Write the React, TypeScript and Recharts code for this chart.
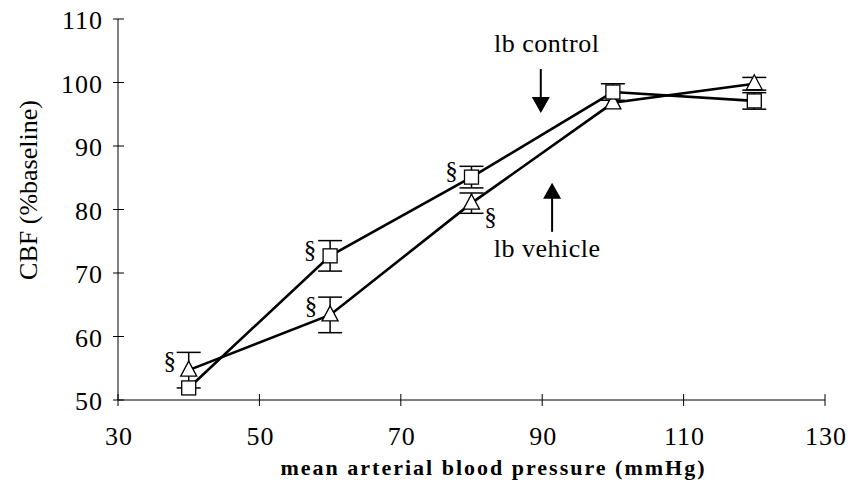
import { LineChart, Line, XAxis, YAxis, ErrorBar, ReferenceDot, Label } from 'recharts';

const pressure = [40, 60, 80, 100, 120];
const controlCBF = [51.9, 72.7, 85.1, 98.5, 97.1];
const controlErr = [null, 2.4, 1.7, 1.3, 1.3];
const vehicleCBF = [54.7, 63.4, 81.0, 96.8, 99.8];
const vehicleErr = [2.8, 2.8, 1.6, null, 1.0];
const controlSig = [false, true, true, false, false];
const vehicleSig = [true, true, true, false, false];
const xTicks = [30, 50, 70, 90, 110, 130];
const yTicks = [50, 60, 70, 80, 90, 100, 110];

const rows = pressure.map((p, i) => ({
    map: p,
    control: controlCBF[i],
    controlErr: controlErr[i],
    vehicle: vehicleCBF[i],
    vehicleErr: vehicleErr[i],
}));

const FONT = '"Liberation Serif", "Times New Roman", serif';

const Square = (props: any) => {
    const { cx, cy, index } = props;
    if (cx == null || cy == null) return null;
    return (
        <g key={`sq-${index}`}>
            <rect x={cx - 7} y={cy - 7} width={14} height={14} fill="#fff" stroke="#000" strokeWidth={1.3} />
            {controlSig[index] && (
                <text x={cx - 20} y={cy + 2} textAnchor="middle" fontFamily={FONT} fontSize={25} fill="#000">§</text>
            )}
        </g>
    );
};

const Triangle = (props: any) => {
    const { cx, cy, index } = props;
    if (cx == null || cy == null) return null;
    // the 80 mmHg sign sits below-right, the others upper-left
    const right = index === 2;
    return (
        <g key={`tr-${index}`}>
            <polygon points={`${cx},${cy - 9} ${cx - 8},${cy + 6} ${cx + 8},${cy + 6}`} fill="#fff" stroke="#000" strokeWidth={1.3} />
            {vehicleSig[index] && (
                <text x={right ? cx + 19 : cx - 19} y={right ? cy + 22 : cy - 1} textAnchor="middle" fontFamily={FONT} fontSize={25} fill="#000">§</text>
            )}
        </g>
    );
};

const YTick = ({ x, y, payload }: any) => (
    <g>
        <line x1={x - 5} x2={x + 6} y1={y} y2={y} stroke="#000" />
        <text x={x - 15} y={y + 10} textAnchor="end" fontFamily={FONT} fontSize={26} letterSpacing={1} fill="#000">{payload.value}</text>
    </g>
);

const XTick = ({ x, y, payload }: any) => (
    <g>
        <line x1={x} x2={x} y1={y - 6} y2={y + 6} stroke="#000" />
        <text x={x + 1} y={y + 45} textAnchor="middle" fontFamily={FONT} fontSize={26} letterSpacing={1} fill="#000">{payload.value}</text>
    </g>
);

const XTitle = ({ viewBox }: any) => (
    <text
        x={viewBox.x + viewBox.width / 2 + 22}
        y={475}
        textAnchor="middle"
        fontFamily={FONT}
        fontSize={22}
        fontWeight="bold"
        letterSpacing={2}
        fill="#000"
    >
        mean arterial blood pressure (mmHg)
    </text>
);

const YTitle = () => (
    <text
        transform="translate(37, 190) rotate(-90)"
        textAnchor="middle"
        fontFamily={FONT}
        fontSize={26}
        fill="#000"
    >
        CBF (%baseline)
    </text>
);

const DownArrow = ({ cx, cy }: any) => (
    <g>
        <text x={cx + 6} y={cy - 61} textAnchor="middle" fontFamily={FONT} fontSize={26} letterSpacing={0.5} fill="#000">lb control</text>
        <line x1={cx} x2={cx} y1={cy - 44} y2={cy - 14} stroke="#000" strokeWidth={2} />
        <polygon points={`${cx - 9},${cy - 16} ${cx + 9},${cy - 16} ${cx},${cy}`} fill="#000" />
    </g>
);

const UpArrow = ({ cx, cy }: any) => (
    <g>
        <polygon points={`${cx - 9},${cy + 16} ${cx + 9},${cy + 16} ${cx},${cy}`} fill="#000" />
        <line x1={cx} x2={cx} y1={cy + 14} y2={cy + 49} stroke="#000" strokeWidth={2} />
        <text x={cx - 5} y={cy + 74} textAnchor="middle" fontFamily={FONT} fontSize={26} letterSpacing={0.5} fill="#000">lb vehicle</text>
    </g>
);

export default function App() {
    return (
        <div style={{ position: 'absolute', left: 0, top: 0, background: '#fff' }}>
            <LineChart width={855} height={482} data={rows} margin={{ top: 19, right: 30, left: 0, bottom: 30 }}>
                <XAxis
                    type="number"
                    dataKey="map"
                    domain={[30, 130]}
                    ticks={xTicks}
                    height={52}
                    tickSize={0}
                    tickMargin={0}
                    tickLine={false}
                    tick={<XTick />}
                    axisLine={{ stroke: '#000' }}
                >
                    <Label content={<XTitle />} />
                </XAxis>
                <YAxis
                    type="number"
                    domain={[50, 110]}
                    ticks={yTicks}
                    width={118}
                    tickSize={0}
                    tickMargin={0}
                    tickLine={false}
                    tick={<YTick />}
                    axisLine={{ stroke: '#000' }}
                >
                    <Label content={<YTitle />} />
                </YAxis>
                <Line
                    dataKey="vehicle"
                    stroke="#000"
                    strokeWidth={2.6}
                    dot={<Triangle />}
                    isAnimationActive={false}
                >
                    <ErrorBar dataKey="vehicleErr" width={12} stroke="#000" strokeWidth={1.5} />
                </Line>
                <Line
                    dataKey="control"
                    stroke="#000"
                    strokeWidth={2.6}
                    dot={<Square />}
                    isAnimationActive={false}
                >
                    <ErrorBar dataKey="controlErr" width={12} stroke="#000" strokeWidth={1.5} />
                </Line>
                <ReferenceDot x={89.8} y={95.2} r={0} shape={<DownArrow />} />
                <ReferenceDot x={91.4} y={84.2} r={0} shape={<UpArrow />} />
            </LineChart>
        </div>
    );
}
